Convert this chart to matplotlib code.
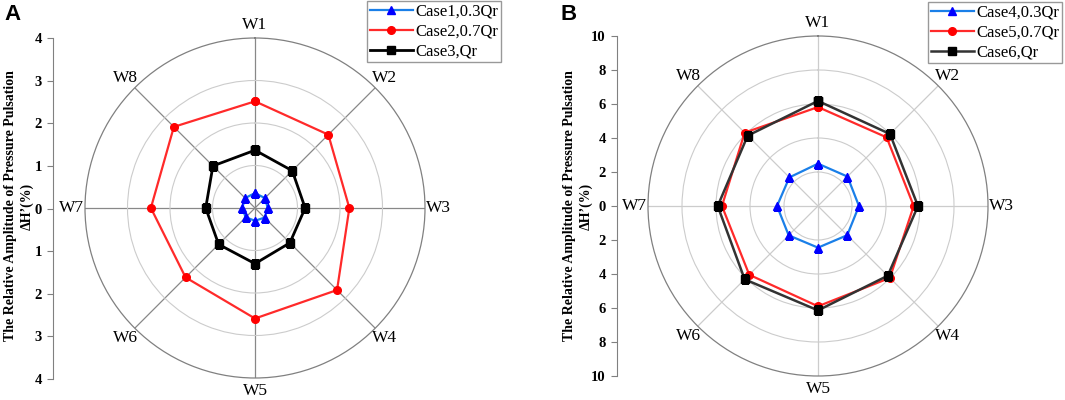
import numpy as np
import matplotlib.pyplot as plt

plt.rcParams['font.family'] = ['Liberation Serif', 'DejaVu Serif']

# monitoring points, clockwise from the top
points = ["W1", "W2", "W3", "W4", "W5", "W6", "W7", "W8"]

# panel A values, dH' (%)
case1 = [0.35, 0.33, 0.30, 0.32, 0.30, 0.31, 0.30, 0.33]
case2 = [2.51, 2.44, 2.22, 2.73, 2.60, 2.31, 2.45, 2.70]
case3 = [1.36, 1.24, 1.18, 1.16, 1.31, 1.21, 1.16, 1.40]

# panel B values, dH' (%)
case4 = [2.49, 2.45, 2.41, 2.43, 2.45, 2.44, 2.41, 2.38]
case5 = [5.82, 5.71, 5.63, 5.98, 5.90, 5.72, 5.65, 6.10]
case6 = [6.18, 5.99, 5.88, 5.80, 6.14, 6.10, 5.90, 5.85]

labelsA = ["Case1,0.3Qr", "Case2,0.7Qr", "Case3,Qr"]
labelsB = ["Case4,0.3Qr", "Case5,0.7Qr", "Case6,Qr"]

W, H = 1065, 400
fig = plt.figure(figsize=(W / 100, H / 100), dpi=100)

def px(l, t, w, h):
    # pixel box (top-left origin) -> figure fraction
    return [l / W, (H - t - h) / H, w / W, h / H]

theta = np.deg2rad(np.arange(0, 360, 45))
theta_c = np.append(theta, theta[0])

def radar(box, series, labels, colors, mcolors, markers, widths, rmax, rstep, spoke_col):
    ax = fig.add_axes(px(*box), projection='polar')
    ax.set_theta_zero_location('N')
    ax.set_theta_direction(-1)
    ax.set_ylim(0, rmax)
    ax.set_yticks(np.arange(rstep, rmax, rstep))
    ax.set_yticklabels([])
    ax.set_xticks(theta)
    ax.set_xticklabels(points, fontsize=12.5)
    ax.tick_params(axis='x', pad=-1)
    ax.yaxis.grid(True, color='#cccccc', lw=0.8)
    ax.xaxis.grid(True, color=spoke_col, lw=0.9)
    ax.spines['polar'].set_color('#808080')
    ax.spines['polar'].set_linewidth(0.9)
    handles = []
    for vals, lab, c, mc, m, lw in zip(series, labels, colors, mcolors, markers, widths):
        v = np.append(vals, vals[0])
        h, = ax.plot(theta_c, v, color=c, lw=lw, marker=m, ms=5.5,
                     mfc=mc, mec=mc, label=lab, zorder=3)
        handles.append(h)
    return ax, handles

def scale_axis(x, top, bottom, rmax, rstep):
    sa = fig.add_axes(px(x, top, 1, bottom - top))
    sa.set_ylim(-rmax, rmax)
    ticks = np.arange(-rmax, rmax + rstep, rstep)
    sa.set_yticks(ticks)
    sa.set_yticklabels([f"{abs(t):g}" for t in ticks], fontsize=10.5, fontweight='bold')
    sa.set_xticks([])
    for s in ['top', 'right', 'bottom']:
        sa.spines[s].set_visible(False)
    sa.spines['left'].set_color('#808080')
    sa.tick_params(axis='y', colors='#808080', labelcolor='black', length=4, width=0.8, pad=4)
    sa.patch.set_alpha(0)
    return sa

def ylabel(x):
    fig.text(x / W, 1 - 206 / H, "The Relative Amplitude of Pressure Pulsation\nΔH\u2019(%)",
             rotation=90, ha='center', va='center', fontsize=10, fontweight='bold',
             multialignment='center', linespacing=1.3)

def legend(handles, x, y):
    fig.legend(handles=handles, loc='upper left', bbox_to_anchor=(x / W, 1 - y / H),
               fontsize=12, frameon=True, fancybox=False, edgecolor='#808080',
               borderpad=0.15, labelspacing=0.25, handlelength=2.6, handletextpad=0.15,
               borderaxespad=0)

# panel A
axA, hA = radar((85, 38, 340, 340), [case1, case2, case3], labelsA,
                ['#1a7fe8', '#ff2a2a', 'black'], ['#0000ff', '#ff0000', 'black'],
                ['^', 'o', 's'], [1.6, 1.6, 2.0], 4, 1, '#888888')
saA = scale_axis(53, 38, 379, 4, 1)
ylabel(19)
fig.text(4 / W, 1 - 14 / H, "A", fontsize=16, fontweight='bold',
         family='Liberation Sans', va='center')
legend(hA, 367, 1)

# panel B
axB, hB = radar((648, 36, 340, 340), [case4, case5, case6], labelsB,
                ['#1a7fe8', '#ff2a2a', '#333333'], ['#0000ff', '#ff0000', 'black'],
                ['^', 'o', 's'], [1.6, 1.6, 1.8], 10, 2, '#cccccc')
saB = scale_axis(617, 36, 376, 10, 2)
ylabel(578)
fig.text(560 / W, 1 - 14 / H, "B", fontsize=16, fontweight='bold',
         family='Liberation Sans', va='center')
legend(hB, 928, 2)

fig.savefig("out.png", dpi=100)
